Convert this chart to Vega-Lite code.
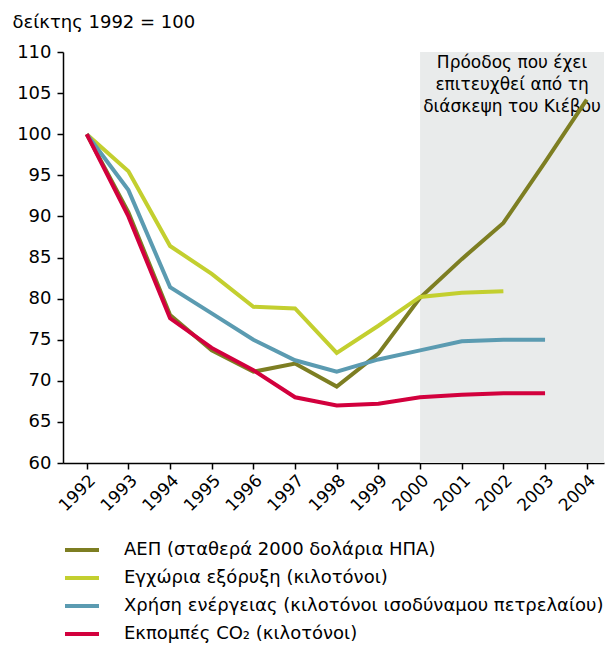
{
  "$schema": "https://vega.github.io/schema/vega-lite/v6.json",
  "width": 541,
  "height": 411,
  "autosize": {"type": "none"},
  "padding": {"left": 63, "top": 52, "right": 7, "bottom": 182},
  "background": "white",
  "config": {
    "view": {"stroke": null},
    "font": "DejaVu Sans",
    "axis": {"labelFont": "DejaVu Sans", "titleFont": "DejaVu Sans", "labelColor": "#000", "titleColor": "#000", "domainColor": "#000", "tickColor": "#000", "grid": false},
    "legend": {"labelFont": "DejaVu Sans", "labelColor": "#000"}
  },
  "datasets": {
    "series": [
      {"year": 1992, "series": "ΑΕΠ (σταθερά 2000 δολάρια ΗΠΑ)", "value": 100},
      {"year": 1993, "series": "ΑΕΠ (σταθερά 2000 δολάρια ΗΠΑ)", "value": 90.5},
      {"year": 1994, "series": "ΑΕΠ (σταθερά 2000 δολάρια ΗΠΑ)", "value": 78.0},
      {"year": 1995, "series": "ΑΕΠ (σταθερά 2000 δολάρια ΗΠΑ)", "value": 73.7},
      {"year": 1996, "series": "ΑΕΠ (σταθερά 2000 δολάρια ΗΠΑ)", "value": 71.1},
      {"year": 1997, "series": "ΑΕΠ (σταθερά 2000 δολάρια ΗΠΑ)", "value": 72.1},
      {"year": 1998, "series": "ΑΕΠ (σταθερά 2000 δολάρια ΗΠΑ)", "value": 69.3},
      {"year": 1999, "series": "ΑΕΠ (σταθερά 2000 δολάρια ΗΠΑ)", "value": 73.3},
      {"year": 2000, "series": "ΑΕΠ (σταθερά 2000 δολάρια ΗΠΑ)", "value": 80.1},
      {"year": 2001, "series": "ΑΕΠ (σταθερά 2000 δολάρια ΗΠΑ)", "value": 84.8},
      {"year": 2002, "series": "ΑΕΠ (σταθερά 2000 δολάρια ΗΠΑ)", "value": 89.2},
      {"year": 2003, "series": "ΑΕΠ (σταθερά 2000 δολάρια ΗΠΑ)", "value": 96.6},
      {"year": 2004, "series": "ΑΕΠ (σταθερά 2000 δολάρια ΗΠΑ)", "value": 104.2},
      {"year": 1992, "series": "Εγχώρια εξόρυξη (κιλοτόνοι)", "value": 100},
      {"year": 1993, "series": "Εγχώρια εξόρυξη (κιλοτόνοι)", "value": 95.5},
      {"year": 1994, "series": "Εγχώρια εξόρυξη (κιλοτόνοι)", "value": 86.4},
      {"year": 1995, "series": "Εγχώρια εξόρυξη (κιλοτόνοι)", "value": 83.0},
      {"year": 1996, "series": "Εγχώρια εξόρυξη (κιλοτόνοι)", "value": 79.0},
      {"year": 1997, "series": "Εγχώρια εξόρυξη (κιλοτόνοι)", "value": 78.8},
      {"year": 1998, "series": "Εγχώρια εξόρυξη (κιλοτόνοι)", "value": 73.4},
      {"year": 1999, "series": "Εγχώρια εξόρυξη (κιλοτόνοι)", "value": 76.7},
      {"year": 2000, "series": "Εγχώρια εξόρυξη (κιλοτόνοι)", "value": 80.2},
      {"year": 2001, "series": "Εγχώρια εξόρυξη (κιλοτόνοι)", "value": 80.7},
      {"year": 2002, "series": "Εγχώρια εξόρυξη (κιλοτόνοι)", "value": 80.9},
      {"year": 1992, "series": "Χρήση ενέργειας (κιλοτόνοι ισοδύναμου πετρελαίου)", "value": 100},
      {"year": 1993, "series": "Χρήση ενέργειας (κιλοτόνοι ισοδύναμου πετρελαίου)", "value": 93.2},
      {"year": 1994, "series": "Χρήση ενέργειας (κιλοτόνοι ισοδύναμου πετρελαίου)", "value": 81.4},
      {"year": 1995, "series": "Χρήση ενέργειας (κιλοτόνοι ισοδύναμου πετρελαίου)", "value": 78.2},
      {"year": 1996, "series": "Χρήση ενέργειας (κιλοτόνοι ισοδύναμου πετρελαίου)", "value": 75.0},
      {"year": 1997, "series": "Χρήση ενέργειας (κιλοτόνοι ισοδύναμου πετρελαίου)", "value": 72.5},
      {"year": 1998, "series": "Χρήση ενέργειας (κιλοτόνοι ισοδύναμου πετρελαίου)", "value": 71.1},
      {"year": 1999, "series": "Χρήση ενέργειας (κιλοτόνοι ισοδύναμου πετρελαίου)", "value": 72.6},
      {"year": 2000, "series": "Χρήση ενέργειας (κιλοτόνοι ισοδύναμου πετρελαίου)", "value": 73.7},
      {"year": 2001, "series": "Χρήση ενέργειας (κιλοτόνοι ισοδύναμου πετρελαίου)", "value": 74.8},
      {"year": 2002, "series": "Χρήση ενέργειας (κιλοτόνοι ισοδύναμου πετρελαίου)", "value": 75.0},
      {"year": 2003, "series": "Χρήση ενέργειας (κιλοτόνοι ισοδύναμου πετρελαίου)", "value": 75.0},
      {"year": 1992, "series": "Εκπομπές CO₂ (κιλοτόνοι)", "value": 100},
      {"year": 1993, "series": "Εκπομπές CO₂ (κιλοτόνοι)", "value": 90.0},
      {"year": 1994, "series": "Εκπομπές CO₂ (κιλοτόνοι)", "value": 77.6},
      {"year": 1995, "series": "Εκπομπές CO₂ (κιλοτόνοι)", "value": 74.0},
      {"year": 1996, "series": "Εκπομπές CO₂ (κιλοτόνοι)", "value": 71.3},
      {"year": 1997, "series": "Εκπομπές CO₂ (κιλοτόνοι)", "value": 68.0},
      {"year": 1998, "series": "Εκπομπές CO₂ (κιλοτόνοι)", "value": 67.0},
      {"year": 1999, "series": "Εκπομπές CO₂ (κιλοτόνοι)", "value": 67.2},
      {"year": 2000, "series": "Εκπομπές CO₂ (κιλοτόνοι)", "value": 68.0},
      {"year": 2001, "series": "Εκπομπές CO₂ (κιλοτόνοι)", "value": 68.3},
      {"year": 2002, "series": "Εκπομπές CO₂ (κιλοτόνοι)", "value": 68.5},
      {"year": 2003, "series": "Εκπομπές CO₂ (κιλοτόνοι)", "value": 68.5}
    ],
    "period": [
      {"start": 2000, "end": 2005, "label": ["Πρόοδος που έχει", "επιτευχθεί από τη", "διάσκεψη του Κιέβου"]}
    ]
  },
  "layer": [
    {
      "data": {"name": "period"},
      "mark": {"type": "rect", "color": "#e9ebeb", "clip": true},
      "encoding": {
        "x": {"field": "start", "type": "quantitative", "scale": {"domain": [1991.43, 2004.415], "nice": false, "zero": false}},
        "x2": {"field": "end"}
      }
    },
    {
      "data": {"name": "period"},
      "mark": {"type": "text", "font": "DejaVu Sans", "fontSize": 17, "color": "#000", "align": "center", "baseline": "top", "lineHeight": 22, "dx": 92, "dy": 3},
      "encoding": {
        "x": {"field": "start", "type": "quantitative"},
        "y": {"datum": 110, "type": "quantitative"},
        "text": {"field": "label"}
      }
    },
    {
      "data": {"name": "series"},
      "mark": {"type": "line", "strokeWidth": 4, "strokeCap": "butt"},
      "encoding": {
        "x": {
          "field": "year", "type": "quantitative",
          "axis": {"title": null, "values": [1992,1993,1994,1995,1996,1997,1998,1999,2000,2001,2002,2003,2004], "format": "d", "labelAngle": -45, "labelFontSize": 17, "labelOverlap": false, "tickSize": 6, "labelPadding": 3, "domainWidth": 1.5, "tickWidth": 1.5}
        },
        "y": {
          "field": "value", "type": "quantitative",
          "scale": {"domain": [60, 110], "nice": false, "zero": false},
          "axis": {"values": [60,65,70,75,80,85,90,95,100,105,110], "labelFontSize": 18, "tickSize": 6, "labelPadding": 6, "domainWidth": 1.5, "tickWidth": 1.5,
            "title": "δείκτης 1992 = 100", "titleAngle": 0, "titleFontSize": 18, "titleFontWeight": "normal", "titleX": -51, "titleY": -30, "titleAlign": "left", "titleBaseline": "middle"}
        },
        "color": {
          "field": "series", "type": "nominal", "sort": null,
          "scale": {
            "domain": ["ΑΕΠ (σταθερά 2000 δολάρια ΗΠΑ)", "Εγχώρια εξόρυξη (κιλοτόνοι)", "Χρήση ενέργειας (κιλοτόνοι ισοδύναμου πετρελαίου)", "Εκπομπές CO₂ (κιλοτόνοι)"],
            "range": ["#7d7e22", "#c3cf2f", "#5b9bb1", "#d2003d"]
          },
          "legend": {"title": null, "orient": "none", "legendX": 0, "legendY": 479, "symbolType": "stroke", "symbolSize": 1156, "symbolStrokeWidth": 4, "labelFontSize": 18, "labelOffset": 23, "rowPadding": -4, "labelLimit": 600}
        }
      }
    }
  ]
}
